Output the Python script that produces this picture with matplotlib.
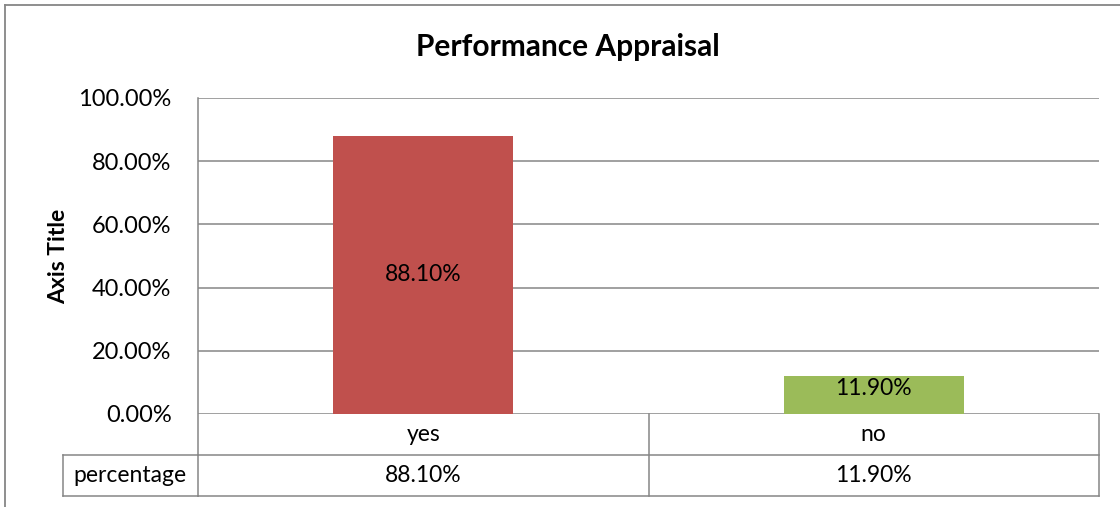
import matplotlib
matplotlib.use("Agg")
import matplotlib.pyplot as plt
from matplotlib.lines import Line2D
import matplotlib.transforms as mtransforms

categories = ["yes", "no"]
values = [88.10, 11.90]
value_labels = ["88.10%", "11.90%"]
bar_colors = ["#C0504D", "#9BBB59"]
series_name = "percentage"
yticks = [0, 20, 40, 60, 80, 100]
ytick_labels = ["0.00%", "20.00%", "40.00%", "60.00%", "80.00%", "100.00%"]
title = "Performance Appraisal"
y_title = "Axis Title"

plt.rcParams['font.family'] = ['Lato', 'DejaVu Sans']
W, H = 1120, 507
fig = plt.figure(figsize=(W / 100, H / 100), dpi=100)
grid_c = "#868686"
FS = 16.5

# plot area in pixels
L, R, T, B = 198, 1099, 98, 414
ax = fig.add_axes([L / W, 1 - B / H, (R - L) / W, (B - T) / H])
ax.set_xlim(-0.5, len(categories) - 0.5)
ax.set_ylim(0, 100)
for s in ax.spines.values():
    s.set_visible(False)
ax.set_xticks([])
ax.set_yticks(yticks)
ax.set_yticklabels(ytick_labels, fontsize=17)
ax.tick_params(axis='y', length=0, pad=19)
for yt in yticks:
    ax.axhline(yt, color=grid_c, lw=1.1, zorder=1)

x = list(range(len(categories)))
bars = ax.bar(x, values, width=0.4, color=bar_colors, zorder=2)
for xi, v, lab in zip(x, values, value_labels):
    ax.text(xi, v / 2 + (2 if v < 20 else 0), lab, ha='center', va='center', fontsize=FS, color='black', zorder=3)

# table below
row_h = 41 / (B - T)  # axes fraction
blend = mtransforms.blended_transform_factory(ax.transData, ax.transAxes)
n = len(categories)
lk = dict(color=grid_c, lw=1.1, clip_on=False, transform=blend)
ax.add_line(Line2D([-0.5, n - 0.5], [-row_h, -row_h], **lk))
ax.add_line(Line2D([-0.5, n - 0.5], [-2 * row_h, -2 * row_h], **lk))
for xv in [i - 0.5 for i in range(n + 1)]:
    top = 1.0 if xv == -0.5 else 0.0
    ax.add_line(Line2D([xv, xv], [top, -2 * row_h], **lk))
for i, (c, lab) in enumerate(zip(categories, value_labels)):
    ax.text(i, -0.5 * row_h, c, transform=blend, ha='center', va='center', fontsize=FS, clip_on=False)
    ax.text(i, -1.5 * row_h, lab, transform=blend, ha='center', va='center', fontsize=FS, clip_on=False)

def fx(px):
    return px / W
def fy(py):
    return 1 - py / H
fk = dict(color=grid_c, lw=1.1, transform=fig.transFigure)
fig.add_artist(Line2D([fx(63), fx(L)], [fy(455), fy(455)], **fk))
fig.add_artist(Line2D([fx(63), fx(L)], [fy(496), fy(496)], **fk))
fig.add_artist(Line2D([fx(63), fx(63)], [fy(455), fy(496)], **fk))
fig.text(fx(130), fy(476), series_name, ha='center', va='center', fontsize=FS)

# outer chart border
fig.add_artist(Line2D([fx(5), fx(5)], [fy(5), 0], color=grid_c, lw=1.3, transform=fig.transFigure))
fig.add_artist(Line2D([fx(5), 1], [fy(5), fy(5)], color=grid_c, lw=1.3, transform=fig.transFigure))

fig.text(fx(568), fy(47), title, ha='center', va='center', fontsize=21.5, fontweight='bold')
fig.text(fx(59), fy(256), y_title, ha='center', va='center', fontsize=16.5, fontweight='bold', rotation=90)

fig.savefig("out.png", dpi=100)
